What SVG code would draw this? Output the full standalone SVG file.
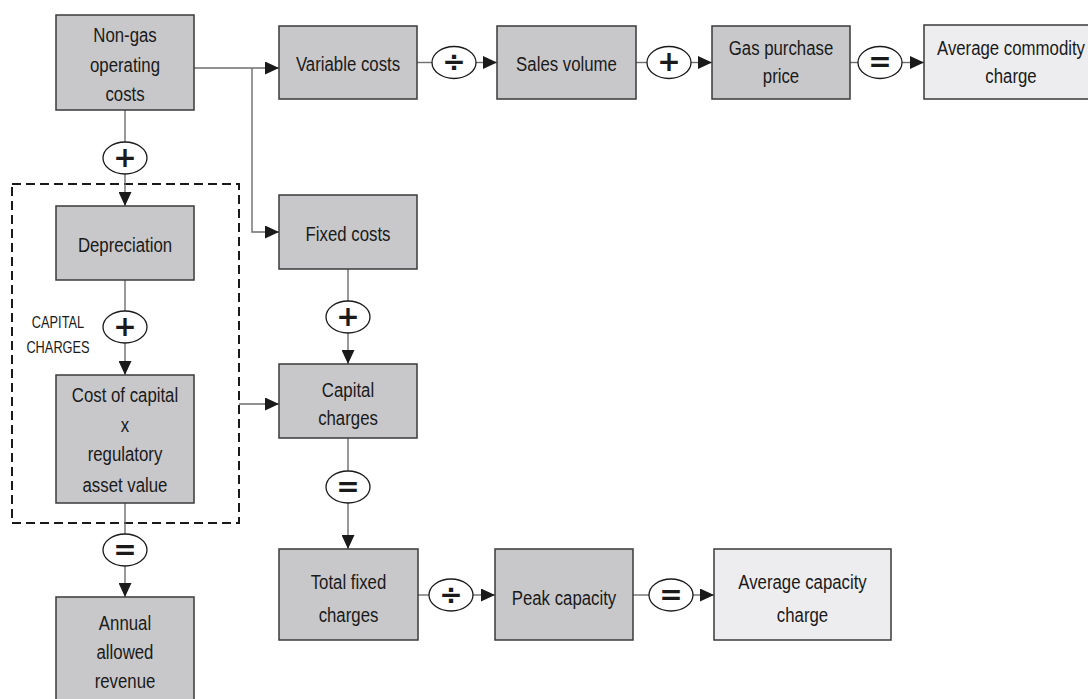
<svg xmlns="http://www.w3.org/2000/svg" width="1088" height="699" viewBox="0 0 1088 699">
<style>
.box{fill:#c8c8ca;stroke:#3a3a3a;stroke-width:1.5}
.lbox{fill:#ededf0;stroke:#3a3a3a;stroke-width:1.5}
.t{font-family:"Liberation Sans",Arial,sans-serif;font-size:21px;fill:#1a1a1a;text-anchor:middle}
.s{font-family:"Liberation Sans",Arial,sans-serif;font-size:16px;fill:#1a1a1a;text-anchor:middle}
.op{fill:#fff;stroke:#1a1a1a;stroke-width:1.3}
.sym{font-family:"DejaVu Sans",sans-serif;font-size:28px;font-weight:bold;fill:#1a1a1a;text-anchor:middle;dominant-baseline:central}
.c{fill:none;stroke:#6e6e6e;stroke-width:1.4}
.ca{fill:none;stroke:#6e6e6e;stroke-width:1.4;marker-end:url(#ah)}
</style>
<defs>
<marker id="ah" markerWidth="14" markerHeight="13" refX="14" refY="6.5" orient="auto" markerUnits="userSpaceOnUse">
<path d="M0,0 L14,6.5 L0,13 Z" fill="#1a1a1a"/>
</marker>
</defs>
<rect width="1088" height="699" fill="#fff"/>
<rect id="capital-group" x="12" y="184" width="227" height="339" fill="none" stroke="#1a1a1a" stroke-width="2" stroke-dasharray="9,5"/>
<g transform="translate(58 0) scale(0.8 1)">
<text class="s" x="0" y="328">CAPITAL</text>
<text class="s" x="0" y="353">CHARGES</text>
</g>

<g id="connectors">
<path class="ca" d="M194,68 H279"/>
<path class="ca" d="M252,68 V232 H279"/>
<path class="c" d="M125,110 V142"/>
<path class="ca" d="M125,174 V206"/>
<path class="c" d="M417,62.5 H432"/>
<path class="ca" d="M476,62.5 H497"/>
<path class="c" d="M636,62.5 H647"/>
<path class="ca" d="M691,62.5 H712"/>
<path class="c" d="M850,62.5 H858"/>
<path class="ca" d="M902,62.5 H924"/>
<path class="c" d="M125,280 V311"/>
<path class="ca" d="M125,343 V375"/>
<path class="c" d="M348,269 V301"/>
<path class="ca" d="M348,333 V364"/>
<path class="ca" d="M239,404 H279"/>
<path class="c" d="M348,438 V471"/>
<path class="ca" d="M348,503 V549"/>
<path class="c" d="M125,503 V534"/>
<path class="ca" d="M125,566 V597"/>
<path class="c" d="M418,595 H429"/>
<path class="ca" d="M473,595 H495"/>
<path class="c" d="M633,595 H649"/>
<path class="ca" d="M693,595 H714"/>
</g>

<g id="n-nongas"><rect class="box" x="56" y="15" width="138" height="95"/>
<g transform="translate(125 0) scale(0.8 1)"><text class="t" x="0" y="42">Non-gas</text><text class="t" x="0" y="72">operating</text><text class="t" x="0" y="101">costs</text></g></g>
<g id="n-variable"><rect class="box" x="279" y="26" width="138" height="73"/>
<g transform="translate(348 0) scale(0.8 1)"><text class="t" x="0" y="71">Variable costs</text></g></g>
<g id="n-sales"><rect class="box" x="497" y="26" width="139" height="73"/>
<g transform="translate(566.5 0) scale(0.8 1)"><text class="t" x="0" y="71">Sales volume</text></g></g>
<g id="n-gas"><rect class="box" x="712" y="26" width="138" height="73"/>
<g transform="translate(781 0) scale(0.8 1)"><text class="t" x="0" y="55">Gas purchase</text><text class="t" x="0" y="83">price</text></g></g>
<g id="n-avgcomm"><rect class="lbox" x="924" y="25" width="177" height="74"/>
<g transform="translate(1011 0) scale(0.8 1)"><text class="t" x="0" y="55">Average commodity</text><text class="t" x="0" y="83">charge</text></g></g>
<g id="n-depreciation"><rect class="box" x="56" y="206" width="138" height="74"/>
<g transform="translate(125 0) scale(0.8 1)"><text class="t" x="0" y="252">Depreciation</text></g></g>
<g id="n-fixed"><rect class="box" x="279" y="195" width="138" height="74"/>
<g transform="translate(348 0) scale(0.8 1)"><text class="t" x="0" y="241">Fixed costs</text></g></g>
<g id="n-costcap"><rect class="box" x="56" y="375" width="138" height="128"/>
<g transform="translate(125 0) scale(0.8 1)"><text class="t" x="0" y="402">Cost of capital</text><text class="t" x="0" y="432">x</text><text class="t" x="0" y="461">regulatory</text><text class="t" x="0" y="492">asset value</text></g></g>
<g id="n-capcharges"><rect class="box" x="279" y="364" width="138" height="74"/>
<g transform="translate(348 0) scale(0.8 1)"><text class="t" x="0" y="397">Capital</text><text class="t" x="0" y="425">charges</text></g></g>
<g id="n-annual"><rect class="box" x="56" y="597" width="138" height="110"/>
<g transform="translate(125 0) scale(0.8 1)"><text class="t" x="0" y="630">Annual</text><text class="t" x="0" y="659">allowed</text><text class="t" x="0" y="688">revenue</text></g></g>
<g id="n-totalfixed"><rect class="box" x="279" y="549" width="139" height="91"/>
<g transform="translate(348.5 0) scale(0.8 1)"><text class="t" x="0" y="589">Total fixed</text><text class="t" x="0" y="622">charges</text></g></g>
<g id="n-peak"><rect class="box" x="495" y="549" width="138" height="91"/>
<g transform="translate(564 0) scale(0.8 1)"><text class="t" x="0" y="605">Peak capacity</text></g></g>
<g id="n-avgcap"><rect class="lbox" x="714" y="549" width="177" height="91"/>
<g transform="translate(802.5 0) scale(0.8 1)"><text class="t" x="0" y="589">Average capacity</text><text class="t" x="0" y="622">charge</text></g></g>

<g id="op1"><ellipse class="op" cx="125" cy="158" rx="22" ry="16"/><text class="sym" x="125" y="157">+</text></g>
<g id="op2"><ellipse class="op" cx="454" cy="62.5" rx="22" ry="16"/><text class="sym" x="454" y="61.5">÷</text></g>
<g id="op3"><ellipse class="op" cx="669" cy="62.5" rx="22" ry="16"/><text class="sym" x="669" y="61.5">+</text></g>
<g id="op4"><ellipse class="op" cx="880" cy="62.5" rx="22" ry="16"/><text class="sym" x="880" y="61.5">=</text></g>
<g id="op5"><ellipse class="op" cx="125" cy="327" rx="22" ry="16"/><text class="sym" x="125" y="326">+</text></g>
<g id="op6"><ellipse class="op" cx="348" cy="317" rx="22" ry="16"/><text class="sym" x="348" y="316">+</text></g>
<g id="op7"><ellipse class="op" cx="348" cy="487" rx="22" ry="16"/><text class="sym" x="348" y="486">=</text></g>
<g id="op8"><ellipse class="op" cx="125" cy="550" rx="22" ry="16"/><text class="sym" x="125" y="549">=</text></g>
<g id="op9"><ellipse class="op" cx="451" cy="595" rx="22" ry="16"/><text class="sym" x="451" y="594">÷</text></g>
<g id="op10"><ellipse class="op" cx="671" cy="595" rx="22" ry="16"/><text class="sym" x="671" y="594">=</text></g>
</svg>
